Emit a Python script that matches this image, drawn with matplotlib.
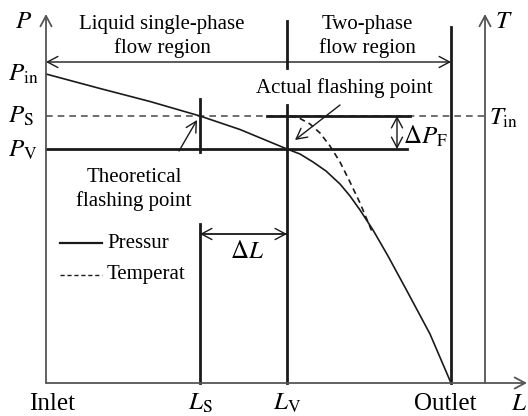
import matplotlib
matplotlib.use("Agg")
import matplotlib.pyplot as plt

plt.rcParams['font.family'] = ['Liberation Serif', 'DejaVu Serif']
plt.rcParams['mathtext.fontset'] = 'stix'

# -----------------------------------------------------
#  Schematic data (drawing units, y grows downward)
# -----------------------------------------------------
x_inlet = 46       # P axis / inlet
x_S = 200          # theoretical flashing point L_S
x_V = 287          # actual flashing point L_V
x_out = 451        # outlet
x_T = 485          # T axis
y_base = 383       # L axis

y_Pin = 74
y_PS = 116
y_PV = 149

# pressure curve along the pipe
press_x = [46, 100, 150, 200, 240, 287, 300, 313, 326, 340, 350, 360, 373, 388, 407, 430, 451]
press_y = [74, 88.5, 101.5, 116, 129.5, 149, 154, 162, 171, 184, 196, 210, 230, 256, 291, 334, 383]

# temperature curve (after flashing)
temp_x = [290, 300, 310, 320, 330, 340, 350, 360, 368, 373]
temp_y = [116, 118.5, 124, 133, 146, 162, 182, 203, 222, 234]

DARK = '#1a1a1a'
GREY = '#555555'
FS = 15

fig = plt.figure(figsize=(5.28, 4.16), dpi=100)
ax = fig.add_axes([0, 0, 1, 1])
ax.set_xlim(0, 528)
ax.set_ylim(416, 0)
ax.axis('off')


def arrow(x0, y0, x1, y1, style='->', lw=1.0, color=DARK):
    ax.annotate('', xy=(x1, y1), xytext=(x0, y0),
                arrowprops=dict(arrowstyle=style + ',head_length=0.75,head_width=0.4',
                                lw=lw, color=color, shrinkA=0, shrinkB=0,
                                mutation_scale=10))


# axes
arrow(x_inlet, y_base, x_inlet, 14, color=GREY, lw=1.3)
arrow(x_inlet, y_base, 527, y_base, color=GREY, lw=1.3)
arrow(x_T, y_base, x_T, 14, color=GREY, lw=1.3)

# temperature reference line T_in / P_S
ax.plot([x_inlet, x_T], [y_PS, y_PS], ls=(0, (4, 3)), color=GREY, lw=1.2)

# thick vertical markers
ax.plot([x_S, x_S], [99, 152], color=DARK, lw=2)
ax.plot([x_S, x_S], [224, y_base], color=DARK, lw=2)
ax.plot([x_V, x_V], [21, 68], color=DARK, lw=2)
ax.plot([x_V, x_V], [105, y_base], color=DARK, lw=2)
ax.plot([x_out, x_out], [27, y_base], color=DARK, lw=2)

# horizontal levels
ax.plot([x_inlet, 407], [y_PV, y_PV], color=DARK, lw=2)
ax.plot([267, 410], [y_PS, y_PS], color=DARK, lw=2)

# curves
ax.plot(press_x, press_y, color=DARK, lw=1.2, solid_joinstyle='round')
ax.plot(temp_x, temp_y, color=DARK, lw=1.2, ls=(0, (3.5, 2.5)))

# region arrows
arrow(x_V, 62, x_inlet, 62)
arrow(x_V, 62, x_out, 62)
arrow(x_V, 234, x_S, 234)
arrow(x_S, 234, x_V, 234)
ax.annotate('', xy=(397, y_PS), xytext=(397, y_PV),
            arrowprops=dict(arrowstyle='<->,head_length=0.75,head_width=0.4', lw=1.0,
                            color=DARK, shrinkA=0, shrinkB=0, mutation_scale=10))

# pointer arrows
arrow(179, 151, 197, 120)
arrow(340, 105, 295, 140)

# texts
ax.text(162, 25, 'Liquid single-phase', ha='center', va='center', fontsize=FS)
ax.text(162, 48, 'flow region', ha='center', va='center', fontsize=FS)
ax.text(367, 24, 'Two-phase', ha='center', va='center', fontsize=FS)
ax.text(367, 48, 'flow region', ha='center', va='center', fontsize=FS)
ax.text(344, 88, 'Actual flashing point', ha='center', va='center', fontsize=FS)
ax.text(134, 178, 'Theoretical', ha='center', va='center', fontsize=FS)
ax.text(134, 201, 'flashing point', ha='center', va='center', fontsize=FS)

ax.text(24, 22, r'$P$', ha='center', va='center', fontsize=18)
ax.text(504, 22, r'$T$', ha='center', va='center', fontsize=18)
ax.text(8, 74, r'$P_{\mathrm{in}}$', ha='left', va='center', fontsize=18)
ax.text(8, 116, r'$P_{\mathrm{S}}$', ha='left', va='center', fontsize=18)
ax.text(8, 150, r'$P_{\mathrm{V}}$', ha='left', va='center', fontsize=18)
ax.text(489, 118, r'$T_{\mathrm{in}}$', ha='left', va='center', fontsize=18)
ax.text(403, 136, r'$\Delta P_{\mathrm{F}}$', ha='left', va='center', fontsize=18)
ax.text(247, 252, r'$\Delta L$', ha='center', va='center', fontsize=18)

ax.text(52, 404, 'Inlet', ha='center', va='center', fontsize=18)
ax.text(445, 404, 'Outlet', ha='center', va='center', fontsize=18)
ax.text(x_S, 403, r'$L_{\mathrm{S}}$', ha='center', va='center', fontsize=18)
ax.text(x_V, 403, r'$L_{\mathrm{V}}$', ha='center', va='center', fontsize=18)
ax.text(519, 404, r'$L$', ha='center', va='center', fontsize=18)

# legend
ax.plot([60, 102], [243, 243], color=DARK, lw=1.6)
ax.plot([60, 102], [275, 275], color=DARK, lw=1.0, ls=(0, (3, 2)))
ax.text(107, 243, 'Pressur', ha='left', va='center', fontsize=FS)
ax.text(107, 275, 'Temperat', ha='left', va='center', fontsize=FS)

fig.savefig('out.png', dpi=100)
